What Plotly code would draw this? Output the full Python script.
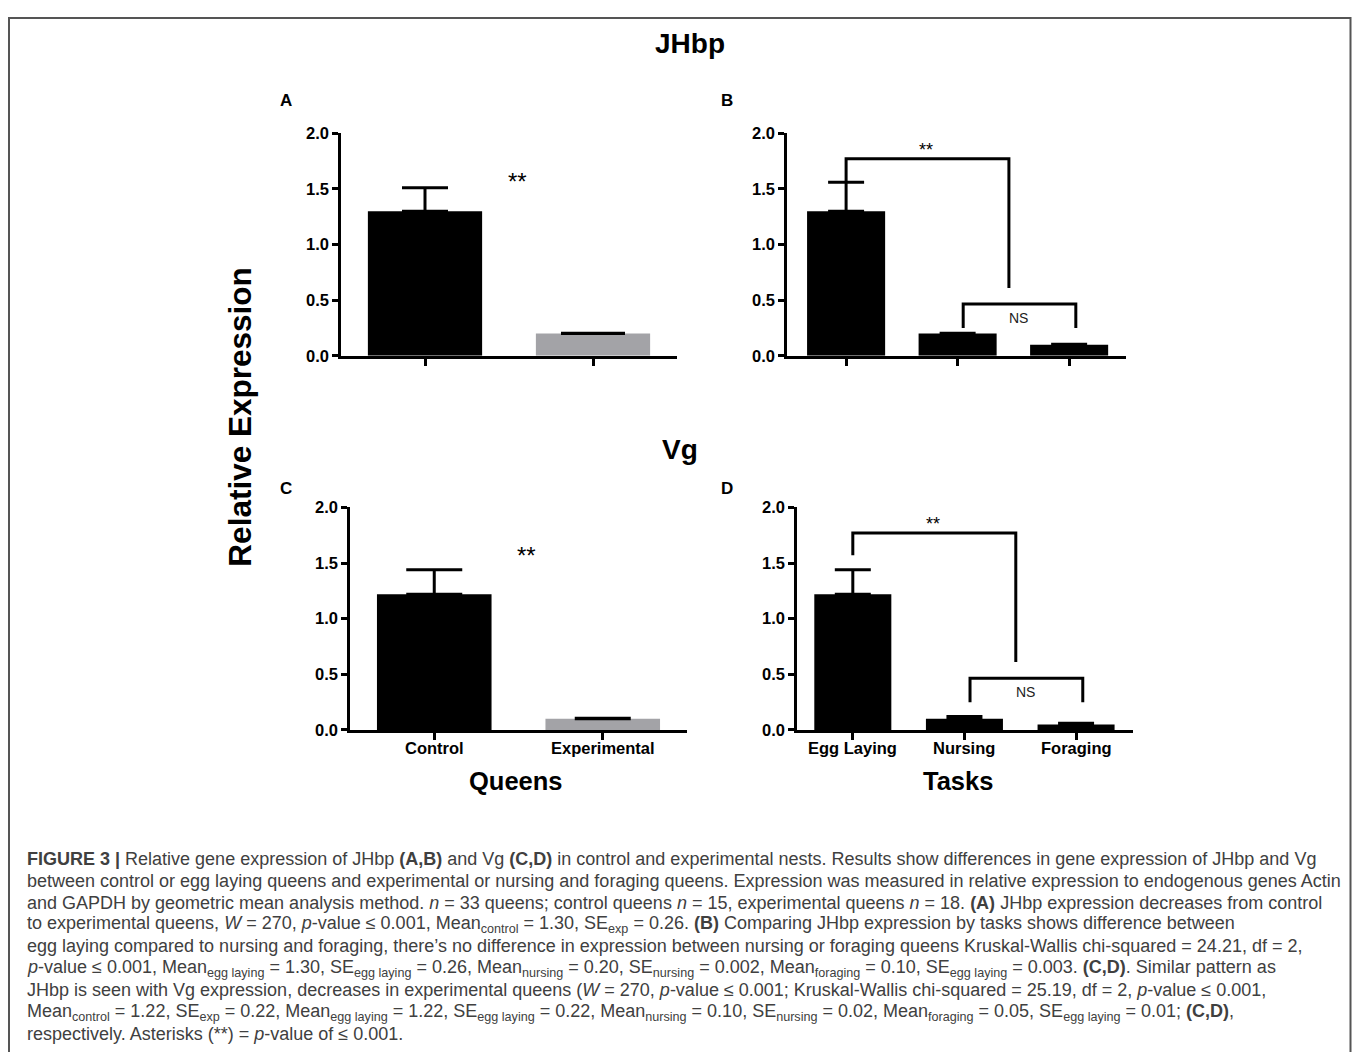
import plotly.graph_objects as go

# The photographed page adds an offset around the figure; measured mapping:
#   photo_x = fig_x + 8,  photo_y = 0.9849 * fig_y + 15.5
# so reference pixels are converted back to figure pixels below.
OX = 8
SY, OY = 0.9849, 15.5
W, H = 1344, 1044
FONT = "Liberation Sans, Arial, sans-serif"

# ---------------- data ----------------
queens_cats = ["Control", "Experimental"]
tasks_cats = ["Egg Laying", "Nursing", "Foraging"]

jhbp_queens_mean = [1.30, 0.20]
jhbp_queens_err = [0.21, 0.002]
jhbp_tasks_mean = [1.30, 0.20, 0.10]
jhbp_tasks_err = [0.26, 0.002, 0.003]

vg_queens_mean = [1.22, 0.10]
vg_queens_err = [0.22, 0.005]
vg_tasks_mean = [1.22, 0.10, 0.05]
vg_tasks_err = [0.22, 0.02, 0.01]

queens_colors = ["#000000", "#a3a3a7"]
tasks_colors = ["#000000", "#000000", "#000000"]

y_ticks = [0.0, 0.5, 1.0, 1.5, 2.0]
y_ticklabels = ["0.0", "0.5", "1.0", "1.5", "2.0"]

caption_lines = [
    "<b>FIGURE 3 |</b> Relative gene expression of JHbp <b>(A,B)</b> and Vg <b>(C,D)</b> in control and experimental nests. Results show differences in gene expression of JHbp and Vg",
    "between control or egg laying queens and experimental or nursing and foraging queens. Expression was measured in relative expression to endogenous genes Actin",
    "and GAPDH by geometric mean analysis method. <i>n</i> = 33 queens; control queens <i>n</i> = 15, experimental queens <i>n</i> = 18. <b>(A)</b> JHbp expression decreases from control",
    "to experimental queens, <i>W</i> = 270, <i>p</i>-value ≤ 0.001, Mean<sub>control</sub> = 1.30, SE<sub>exp</sub> = 0.26. <b>(B)</b> Comparing JHbp expression by tasks shows difference between",
    "egg laying compared to nursing and foraging, there’s no difference in expression between nursing or foraging queens Kruskal-Wallis chi-squared = 24.21, df = 2,",
    "<i>p</i>-value ≤ 0.001, Mean<sub>egg laying</sub> = 1.30, SE<sub>egg laying</sub> = 0.26, Mean<sub>nursing</sub> = 0.20, SE<sub>nursing</sub> = 0.002, Mean<sub>foraging</sub> = 0.10, SE<sub>egg laying</sub> = 0.003. <b>(C,D)</b>. Similar pattern as",
    "JHbp is seen with Vg expression, decreases in experimental queens (<i>W</i> = 270, <i>p</i>-value ≤ 0.001; Kruskal-Wallis chi-squared = 25.19, df = 2, <i>p</i>-value ≤ 0.001,",
    "Mean<sub>control</sub> = 1.22, SE<sub>exp</sub> = 0.22, Mean<sub>egg laying</sub> = 1.22, SE<sub>egg laying</sub> = 0.22, Mean<sub>nursing</sub> = 0.10, SE<sub>nursing</sub> = 0.02, Mean<sub>foraging</sub> = 0.05, SE<sub>egg laying</sub> = 0.01; <b>(C,D)</b>,",
    "respectively. Asterisks (**) = <i>p</i>-value of ≤ 0.001.",
]


# ---------------- helpers ----------------
def px_x(p):
    return (p - OX) / W


def px_y(p):
    return 1 - ((p - OY) / SY) / H


fig = go.Figure()

panels = [
    ("", (341, 677), (132, 355), [-0.5, 1.5], queens_cats, jhbp_queens_mean, jhbp_queens_err, queens_colors, 0.68, [23, 32], False),
    ("2", (787, 1126), (132, 355), [-0.53, 2.51], tasks_cats, jhbp_tasks_mean, jhbp_tasks_err, tasks_colors, 0.70, [18, 18, 18], False),
    ("3", (350, 687), (507, 730), [-0.5, 1.5], queens_cats, vg_queens_mean, vg_queens_err, queens_colors, 0.68, [28, 28], True),
    ("4", (797, 1133), (507, 730), [-0.5, 2.51], tasks_cats, vg_tasks_mean, vg_tasks_err, tasks_colors, 0.69, [18, 18, 18], True),
]

layout_axes = {}
annotations = []
shapes = []
for ax, (x0, x1), (ytop, ybot), xr, cats, means, errs, cols, bw, caps, showlab in panels:
    xname = "x" + ax
    yname = "y" + ax
    for i in range(len(cats)):
        fig.add_trace(go.Bar(
            x=[i], y=[means[i]], width=bw,
            marker=dict(color=cols[i], line=dict(width=0)),
            error_y=dict(type="data", symmetric=False, array=[errs[i]], arrayminus=[0],
                         color="black", thickness=3, width=caps[i]),
            xaxis=xname, yaxis=yname, showlegend=False, hoverinfo="skip",
        ))
        if showlab:
            annotations.append(dict(xref=xname, yref="paper", x=i, y=px_y(748),
                                    text="<b>%s</b>" % cats[i], showarrow=False,
                                    xanchor="center", yanchor="middle",
                                    font=dict(family=FONT, size=16.5, color="black")))
    layout_axes["xaxis" + ax] = dict(
        domain=[px_x(x0), px_x(x1)], range=xr, anchor=yname,
        tickvals=list(range(len(cats))), ticktext=cats, showticklabels=False,
        showline=True, linecolor="black", linewidth=2.5,
        ticks="outside", ticklen=7, tickwidth=2.5, tickcolor="black",
        showgrid=False, zeroline=False, fixedrange=True,
    )
    layout_axes["yaxis" + ax] = dict(
        domain=[px_y(ybot), px_y(ytop)], range=[0, 2.0], anchor=xname,
        tickvals=y_ticks, ticktext=y_ticklabels,
        showline=True, linecolor="black", linewidth=2.5,
        ticks="outside", ticklen=6, tickwidth=2.5, tickcolor="black",
        tickfont=dict(family=FONT, size=16.5, color="black", weight="bold"),
        showgrid=False, zeroline=False, fixedrange=True,
    )

fig.update_layout(**layout_axes)

# significance brackets for task panels
for ax in ["2", "4"]:
    xr_, yr_ = "x" + ax, "y" + ax
    shapes.append(dict(type="path", xref=xr_, yref=yr_,
                       path="M 0,1.57 L 0,1.77 L 1.46,1.77 L 1.46,0.61",
                       line=dict(color="black", width=3)))
    shapes.append(dict(type="path", xref=xr_, yref=yr_,
                       path="M 1.05,0.25 L 1.05,0.465 L 2.06,0.465 L 2.06,0.25",
                       line=dict(color="black", width=3)))
    annotations.append(dict(xref=xr_, yref=yr_, x=0.72, y=1.85, text="**", showarrow=False,
                            font=dict(family=FONT, size=18, color="black")))
    annotations.append(dict(xref=xr_, yref=yr_, x=1.55, y=0.34, text="NS", showarrow=False,
                            font=dict(family=FONT, size=14, color="#222")))

# ** in queen panels
for ax in ["", "3"]:
    annotations.append(dict(xref="x" + ax, yref="y" + ax, x=0.55, y=1.57, text="**", showarrow=False,
                            font=dict(family=FONT, size=24, color="black")))


def txt(xp, yp, text, size, bold=True, angle=0, color="black", anchor="center"):
    annotations.append(dict(xref="paper", yref="paper", x=px_x(xp), y=px_y(yp),
                            text=("<b>%s</b>" % text) if bold else text, showarrow=False,
                            textangle=angle, xanchor=anchor, yanchor="middle",
                            font=dict(family=FONT, size=size, color=color)))


txt(690, 42, "JHbp", 28)
txt(680, 449, "Vg", 28)
txt(240, 417, "Relative Expression", 31.5, angle=-90)
txt(286, 99, "A", 17)
txt(727, 99, "B", 17)
txt(286, 488, "C", 17)
txt(727, 488, "D", 17)
txt(516, 781, "Queens", 25.5)
txt(958, 781, "Tasks", 25.5)

# caption
for i, line in enumerate(caption_lines):
    annotations.append(dict(xref="paper", yref="paper", x=px_x(25), y=px_y(859 + 22 * i),
                            text=line, showarrow=False, xanchor="left", yanchor="middle",
                            font=dict(family=FONT, size=18, color="#404040")))

# outer frame (top edge as close to the reference as the figure allows)
shapes.append(dict(type="rect", xref="paper", yref="paper",
                   x0=px_x(9), x1=1 - 1.5 / W, y0=-0.05, y1=1 - 1.0 / H,
                   line=dict(color="#555555", width=2)))

fig.update_layout(
    width=W, height=H, margin=dict(l=0, r=0, t=0, b=0),
    paper_bgcolor="white", plot_bgcolor="white",
    shapes=shapes, annotations=annotations, barmode="overlay",
    showlegend=False,
)

fig.write_html("out.html")
